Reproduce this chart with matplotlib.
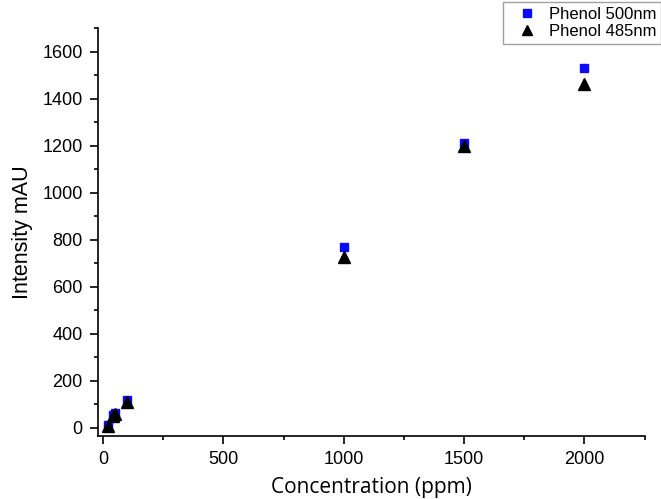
import matplotlib
matplotlib.use("Agg")
import matplotlib.pyplot as plt
from matplotlib.ticker import MultipleLocator

conc = [20, 40, 50, 100, 1000, 1500, 2000]
phenol_500 = [12, 55, 62, 118, 768, 1210, 1528]
phenol_485 = [8, 50, 58, 112, 728, 1198, 1462]

fig = plt.figure(figsize=(6.61, 4.99), dpi=100)
ax = fig.add_axes([98/661, 63/499, 547/661, 408/499])

ax.plot(conc, phenol_500, linestyle="none", marker="s", markersize=6,
        color="#0a0aff", markeredgecolor="#0a0aff", label="Phenol 500nm", zorder=3)
ax.plot(conc, phenol_485, linestyle="none", marker="^", markersize=8,
        color="black", label="Phenol 485nm", zorder=4)

ax.set_xlim(-21, 2252)
ax.set_ylim(-34, 1700)
ax.spines["top"].set_visible(False)
ax.spines["right"].set_visible(False)
for s in ("left", "bottom"):
    ax.spines[s].set_linewidth(1.2)
ax.xaxis.set_major_locator(MultipleLocator(500))
ax.xaxis.set_minor_locator(MultipleLocator(250))
ax.yaxis.set_major_locator(MultipleLocator(200))
ax.yaxis.set_minor_locator(MultipleLocator(100))
ax.tick_params(which="major", direction="out", length=6, width=1.2,
               labelsize=13, pad=5)
ax.tick_params(which="minor", direction="out", length=3, width=1.2)
for lab in ax.get_xticklabels() + ax.get_yticklabels():
    lab.set_fontfamily("Liberation Sans")

ax.set_xlabel("Concentration (ppm)", fontsize=15, family="Open Sans", labelpad=6)
ax.set_ylabel("Intensity mAU", fontsize=15.5, family="Liberation Sans", labelpad=7)

leg = fig.legend(loc="upper left", bbox_to_anchor=(503/661, 1 - 2/499),
                 borderaxespad=0, frameon=True, fancybox=False, edgecolor="#888888",
                 prop={"family": "Liberation Sans", "size": 12},
                 handletextpad=0.15, borderpad=0.3, labelspacing=0.1,
                 handlelength=2.3, markerscale=0.85)
leg.get_frame().set_linewidth(1.0)

fig.savefig("out.png", dpi=100)
